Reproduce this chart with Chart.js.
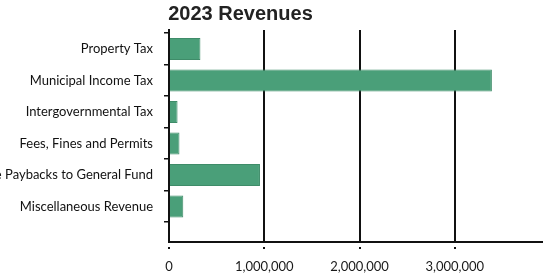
<!DOCTYPE html>
<html lang="en">
<head>
    <meta charset="UTF-8">
    <title>2023 Revenues</title>
    <script src="https://cdn.jsdelivr.net/npm/chart.js"></script>
    <style>
        body { margin: 0; background: #fff; overflow: hidden; width: 543px; height: 280px; position: relative; }
        .wrap { position: absolute; left: -76px; top: 0; width: 636px; height: 280px; }
    </style>
</head>
<body>
    <div class="wrap"><canvas id="revChart"></canvas></div>

    <script>
        // chart data
        const categories = ['Property Tax', 'Municipal Income Tax', 'Intergovernmental Tax',
            'Fees, Fines and Permits', 'Enterprise Paybacks to General Fund', 'Miscellaneous Revenue'];
        const revenues = [330000, 3390000, 90000, 110000, 955000, 150000];
        const xTicks = [0, 1000000, 2000000, 3000000];

        const points = revenues.map((v, i) => ({ x: v, y: i }));

        const ctx = document.getElementById('revChart').getContext('2d');
        new Chart(ctx, {
            type: 'bar',
            data: {
                datasets: [{
                    data: points,
                    backgroundColor: '#4a9f79',
                    borderColor: '#3f8c69',
                    borderWidth: 1,
                    categoryPercentage: 1,
                    barPercentage: 0.7
                }]
            },
            options: {
                indexAxis: 'y',
                responsive: true,
                maintainAspectRatio: false,
                animation: false,
                devicePixelRatio: 1,
                layout: { padding: { left: 0, right: 3, top: 0, bottom: 0 } },
                plugins: {
                    legend: { display: false },
                    tooltip: { enabled: false },
                    title: {
                        display: true,
                        text: '2023 Revenues',
                        color: '#222',
                        font: { family: 'Liberation Sans', size: 20, weight: 'bold' },
                        padding: { top: 2, bottom: 4 }
                    }
                },
                scales: {
                    x: {
                        type: 'linear',
                        min: 0,
                        max: 4000000,
                        afterFit: (axis) => { axis.height = 38; },
                        grid: {
                            // only the labelled ticks get lines
                            color: (c) => (c.tick && xTicks.includes(c.tick.value)) ? '#111' : 'rgba(0,0,0,0)',
                            lineWidth: 2,
                            tickLength: 7,
                            tickBorderDash: [3, 4],
                            tickBorderDashOffset: 3
                        },
                        border: { color: '#111', width: 2 },
                        ticks: {
                            stepSize: 1000000,
                            maxRotation: 0,
                            padding: 10,
                            color: '#1a1a1a',
                            font: { family: 'Lato', size: 13 },
                            callback: (v) => xTicks.includes(v) ? v.toLocaleString('en-US') : ''
                        }
                    },
                    y: {
                        type: 'linear',
                        reverse: true,
                        offset: false,
                        min: -0.6,
                        max: 6.13,
                        afterBuildTicks: (axis) => {
                            axis.ticks = categories.map((c, i) => ({ value: i }));
                        },
                        afterFit: (axis) => { axis.width = 245; },
                        grid: {
                            offset: true,
                            drawOnChartArea: false,
                            color: '#111',
                            lineWidth: 1.5,
                            tickLength: 5
                        },
                        border: { color: '#111', width: 2 },
                        ticks: {
                            autoSkip: false,
                            padding: 11,
                            color: '#111',
                            font: { family: 'Lato', size: 13 },
                            callback: (v) => categories[v]
                        }
                    }
                }
            }
        });
    </script>
</body>
</html>
